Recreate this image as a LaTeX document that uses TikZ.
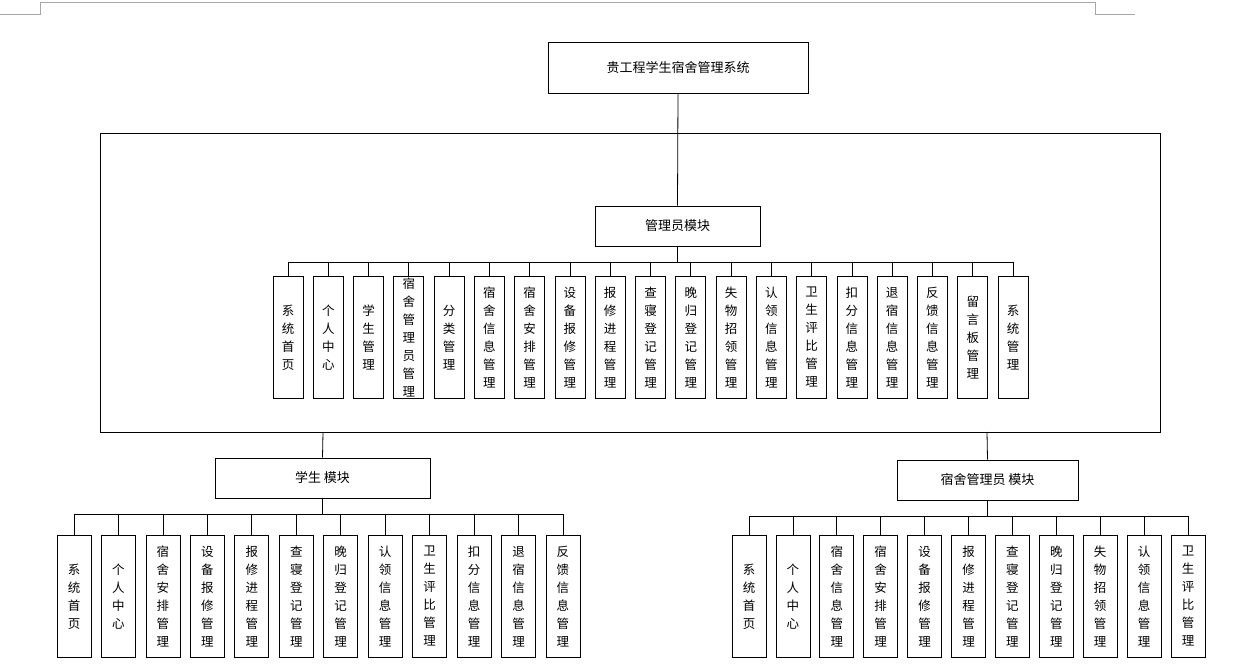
\documentclass[tikz,border=0pt]{standalone}
\usepackage{fontspec}
\setmainfont{Noto Sans CJK SC}
\begin{document}
\begin{tikzpicture}[x=1pt,y=-1pt,line width=0.8pt,
  box/.style={draw,inner sep=0pt,font=\fontsize{13}{16}\selectfont},
  leaf/.style={draw,inner sep=0pt,anchor=north,align=center,font=\fontsize{12.5}{18}\selectfont},
  ln/.style={draw,line width=0.8pt}]
\useasboundingbox (0,0) rectangle (1240,669);
\draw[gray!70,line width=0.6pt] (0,14)--(40,14)--(40,2)--(1095,2)--(1095,14)--(1135,14);
\node[box,minimum width=260pt,minimum height=51pt] (top) at (678,67.5) {贵工程学生宿舍管理系统};
\node[draw,minimum width=1060pt,minimum height=299pt,inner sep=0pt] (outer) at (630,282.5) {};
\node[box,minimum width=165pt,minimum height=40pt] (adm) at (677.5,226) {管理员模块};
\node[box,minimum width=215pt,minimum height=40pt] (stu) at (322.5,478) {学生 模块};
\node[box,minimum width=181pt,minimum height=40pt] (dorm) at (987.5,480) {宿舍管理员 模块};
\coordinate (ot) at (678,133);
\draw (top.south) -- (adm.north);
\draw (323,432) -- (stu.north);
\draw (987,432) -- (dorm.north);
% admin leaves
\foreach \t [count=\i] in {系\\统\\首\\页,个\\人\\中\\心,学\\生\\管\\理,宿\\舍\\管\\理\\员\\管\\理,分\\类\\管\\理,宿\\舍\\信\\息\\管\\理,宿\\舍\\安\\排\\管\\理,设\\备\\报\\修\\管\\理,报\\修\\进\\程\\管\\理,查\\寝\\登\\记\\管\\理,晚\\归\\登\\记\\管\\理,失\\物\\招\\领\\管\\理,认\\领\\信\\息\\管\\理,卫\\生\\评\\比\\管\\理,扣\\分\\信\\息\\管\\理,退\\宿\\信\\息\\管\\理,反\\馈\\信\\息\\管\\理,留\\言\\板\\管\\理,系\\统\\管\\理}{
  \pgfmathsetmacro\cx{288+(\i-1)*40.28}
  \node[leaf,minimum width=30pt,minimum height=122pt] (a\i) at (\cx,276) {};
  \node[align=center,inner sep=0pt,font=\fontsize{12.5}{18}\selectfont] at (a\i.center) {\t};
  \draw (a\i.north) -- (\cx,262);
}
\draw (adm.south) -- (677.5,262);
\draw (a1.north |- 0,262) -- (a19.north |- 0,262);
% student leaves
\foreach \t [count=\i] in {系\\统\\首\\页,个\\人\\中\\心,宿\\舍\\安\\排\\管\\理,设\\备\\报\\修\\管\\理,报\\修\\进\\程\\管\\理,查\\寝\\登\\记\\管\\理,晚\\归\\登\\记\\管\\理,认\\领\\信\\息\\管\\理,卫\\生\\评\\比\\管\\理,扣\\分\\信\\息\\管\\理,退\\宿\\信\\息\\管\\理,反\\馈\\信\\息\\管\\理}{
  \pgfmathsetmacro\cx{74+(\i-1)*44.45}
  \node[leaf,minimum width=34pt,minimum height=122pt] (s\i) at (\cx,535) {};
  \node[align=center,inner sep=0pt,font=\fontsize{12.5}{18}\selectfont] at (s\i.center) {\t};
  \draw (s\i.north) -- (\cx,514);
}
\draw (stu.south) -- (322.5,514);
\draw (s1.north |- 0,514) -- (s12.north |- 0,514);
% dorm leaves
\foreach \t [count=\i] in {系\\统\\首\\页,个\\人\\中\\心,宿\\舍\\信\\息\\管\\理,宿\\舍\\安\\排\\管\\理,设\\备\\报\\修\\管\\理,报\\修\\进\\程\\管\\理,查\\寝\\登\\记\\管\\理,晚\\归\\登\\记\\管\\理,失\\物\\招\\领\\管\\理,认\\领\\信\\息\\管\\理,卫\\生\\评\\比\\管\\理}{
  \pgfmathsetmacro\cx{749+(\i-1)*43.9}
  \node[leaf,minimum width=34pt,minimum height=122pt] (d\i) at (\cx,535) {};
  \node[align=center,inner sep=0pt,font=\fontsize{12.5}{18}\selectfont] at (d\i.center) {\t};
  \draw (d\i.north) -- (\cx,516);
}
\draw (dorm.south) -- (987.5,516);
\draw (d1.north |- 0,516) -- (d11.north |- 0,516);
\end{tikzpicture}
\end{document}
